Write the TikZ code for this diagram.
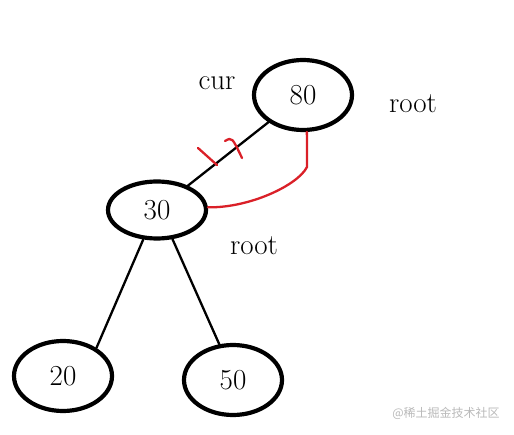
\documentclass[tikz,border=0pt]{standalone}
\usepackage{fontspec}
\newfontfamily\cjk{Noto Sans CJK SC}
\usetikzlibrary{shapes.geometric}
\definecolor{inkred}{RGB}{218,32,40}
\begin{document}
\begin{tikzpicture}[x=1pt,y=-1pt,line cap=round,line join=round,
  key/.style={ellipse,draw,line width=4.2pt,minimum width=98pt,minimum height=70pt,inner sep=0pt,font=\fontsize{29}{29}\selectfont},
  note/.style={font=\fontsize{29}{29}\selectfont},
  edge/.style={line width=2.3pt},
  redline/.style={line width=2.3pt,draw=inkred}]
  \useasboundingbox (0,0) rectangle (514,435);
  \node[key] (n80) at (303,95) {80};
  \node[key,minimum height=57pt] (n30) at (157,210) {30};
  \node[key] (n20) at (63,376) {20};
  \node[key] (n50) at (233,380) {50};
  \node[note] (cur) at (217,83) {cur};
  \node[note] (root1) at (413,104) {root};
  \node[note] (root2) at (254,246) {root};
  \draw[edge] (n80) -- (n30);
  \draw[edge] (n30.245) -- (n20.40);
  \draw[edge] (n30.298) -- (n50.111);
  \coordinate (bend) at (307,167);
  \draw[redline] (n80.-84) -- (bend) .. controls (298,185) and (250,208) .. (n30.3);
  \draw[redline] (198,148) -- (217,165);
  \draw[redline] (225,141) .. controls (232,137) .. (242,158);
  \node[text=gray!55,font=\cjk\fontsize{12}{12}\selectfont] (wm) at (446,413) {@稀土掘金技术社区};
\end{tikzpicture}
\end{document}
